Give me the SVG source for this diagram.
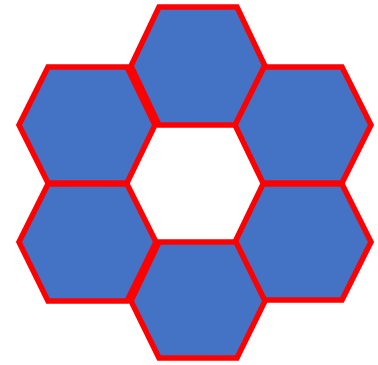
<svg xmlns="http://www.w3.org/2000/svg" width="378" height="365" viewBox="0 0 378 365">
<style>
.hex{fill:#4472C4;stroke:#FF0000;stroke-width:5.5;stroke-linejoin:miter}
</style>
<rect width="378" height="365" fill="#FFFFFF"/>
<g id="hex-top"><polygon class="hex" points="131,66 159,7 237,7 265,66 237,125 159,125"/></g>
<g id="hex-upper-left"><polygon class="hex" points="19,125 48,67 127,67 155,125 127,183 48,183"/></g>
<g id="hex-upper-right"><polygon class="hex" points="235,125 264,67 342,67 371,125 342,183 263,183"/></g>
<g id="hex-lower-left"><polygon class="hex" points="19,242 48,184 127,184 156,242 127,301 48,301"/></g>
<g id="hex-lower-right"><polygon class="hex" points="235,242 263,184 342,184 371,242 342,300 263,300"/></g>
<g id="hex-bottom"><polygon class="hex" points="131,301 159,242 236,242 265,301 237,358 159,358"/></g>
<g id="connectors"></g>
</svg>
